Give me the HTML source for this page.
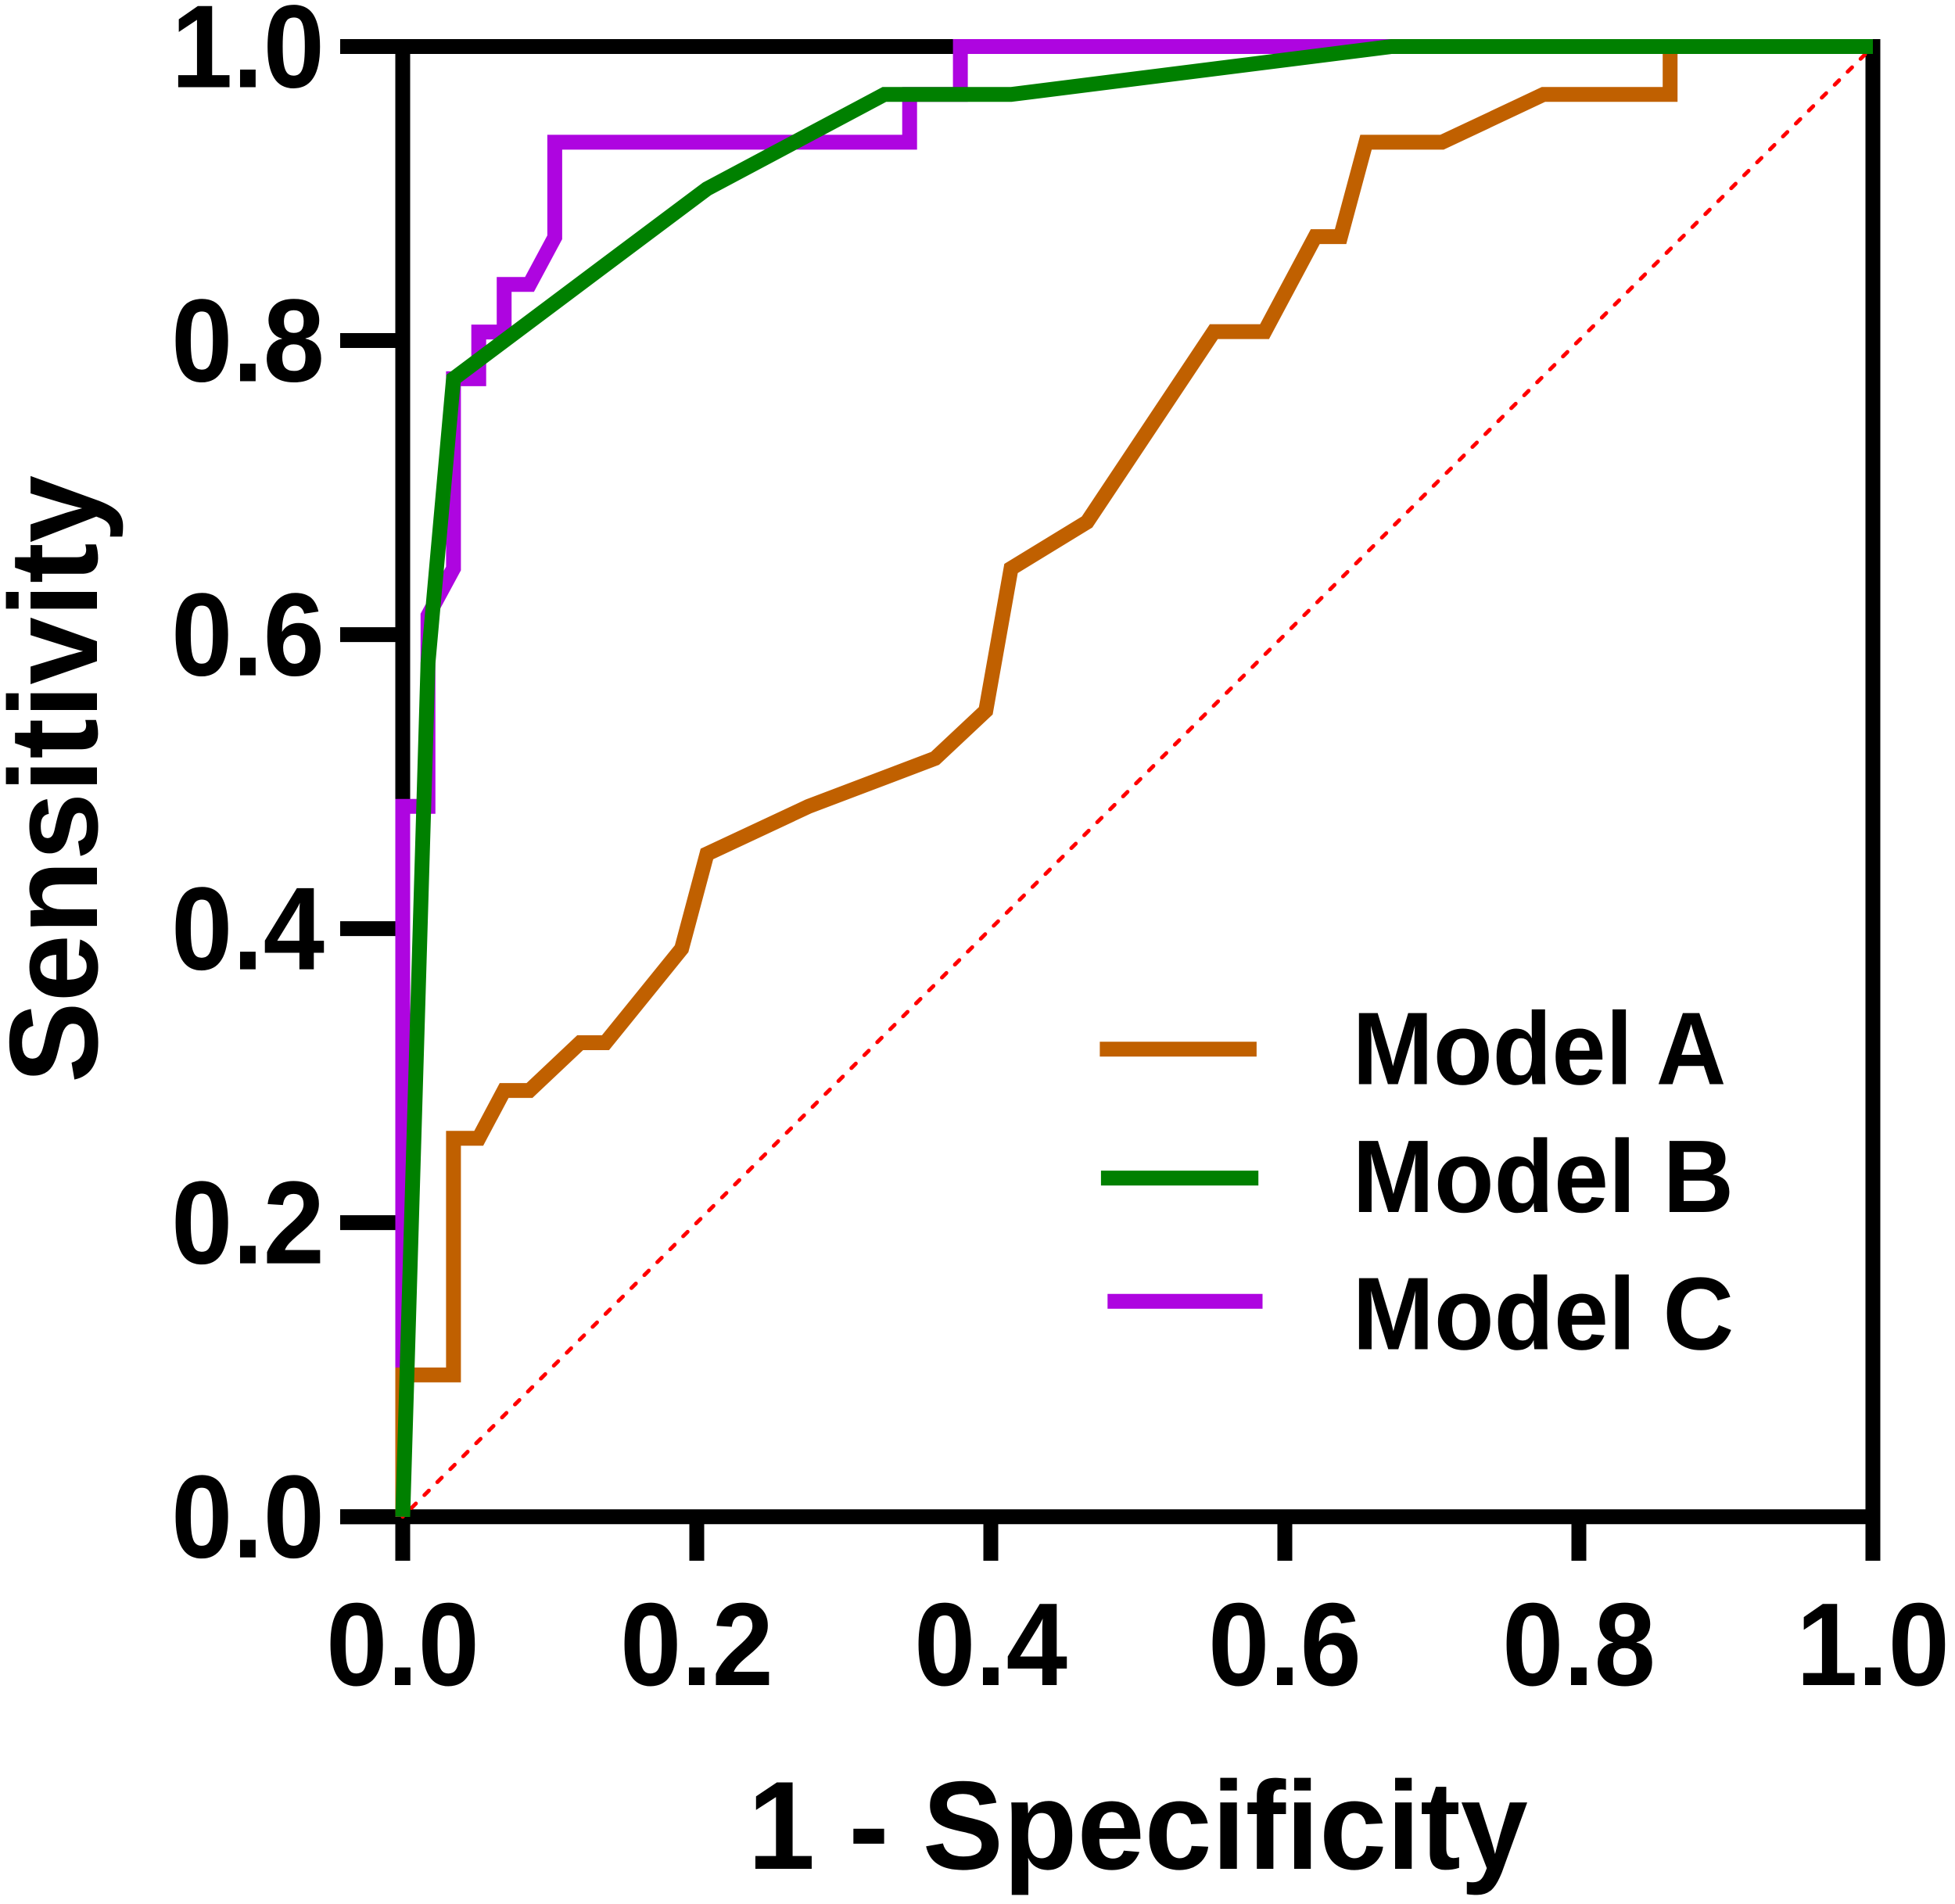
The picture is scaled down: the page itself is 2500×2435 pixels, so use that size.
<!DOCTYPE html>
<html lang="en">
<head>
<meta charset="utf-8">
<title>ROC curves</title>
<style>
  html, body { margin: 0; padding: 0; background: #ffffff; }
  svg { display: block; }
  text { font-family: "Liberation Sans", Arial, sans-serif; font-weight: 700; fill: #000000; }
</style>
</head>
<body>
<svg id="chart" xmlns="http://www.w3.org/2000/svg" width="2500" height="2435" viewBox="0 0 2500 2435">
  <rect x="0" y="0" width="2500" height="2435" fill="#ffffff"/>
  <g id="axes"></g>
  <g id="series"></g>
  <g id="ticklabels"></g>

  <text transform="translate(1455 2390) scale(0.992 1.03)" font-size="156" text-anchor="middle">1 - Specificity</text>
  <text transform="translate(124 996.5) rotate(-90) scale(0.996 1.03)" font-size="156" text-anchor="middle">Sensitivity</text>

  <g>
    <g>
      <line x1="1406.4" x2="1606.9" y1="1341.8" y2="1341.8" stroke="#c06000" stroke-width="19"/>
      <text transform="translate(1729.5 1386.5) scale(0.94 1)" font-size="132">Model A</text>
    </g>
    <g>
      <line x1="1407.9" x2="1609.2" y1="1506.6" y2="1506.6" stroke="#008000" stroke-width="19"/>
      <text transform="translate(1729.5 1550) scale(0.95 1)" font-size="132">Model B</text>
    </g>
    <g>
      <line x1="1416.3" x2="1614.5" y1="1664.3" y2="1664.3" stroke="#ae05e0" stroke-width="19"/>
      <text transform="translate(1729.5 1725.5) scale(0.95 1)" font-size="132">Model C</text>
    </g>
  </g>
</svg>

<script>
const xTicks = [0, 0.2, 0.4, 0.6, 0.8, 1];
const yTicks = [0, 0.2, 0.4, 0.6, 0.8, 1];
const xTickLabels = ["0.0", "0.2", "0.4", "0.6", "0.8", "1.0"];
const yTickLabels = ["0.0", "0.2", "0.4", "0.6", "0.8", "1.0"];

const modelAFpr = [0, 0, 0.0345, 0.0345, 0.0517, 0.069, 0.0862, 0.1207, 0.1379, 0.1897, 0.2069, 0.2759, 0.3621, 0.3966, 0.4138, 0.4655, 0.5517, 0.5862, 0.6207, 0.6379, 0.6552, 0.7069, 0.7759, 0.8621, 0.8621, 1];
const modelATpr = [0, 0.0964, 0.0964, 0.2574, 0.2574, 0.2899, 0.2899, 0.3224, 0.3224, 0.3863, 0.4508, 0.4831, 0.5158, 0.5482, 0.645, 0.6766, 0.8061, 0.8061, 0.8707, 0.8707, 0.9349, 0.9349, 0.9674, 0.9674, 1, 1];

const modelBFpr = [0, 0.0172, 0.0345, 0.2069, 0.3276, 0.4138, 0.6724, 1];
const modelBTpr = [0, 0.5806, 0.774, 0.9032, 0.9674, 0.9674, 1, 1];

const modelCFpr = [0, 0, 0.0172, 0.0172, 0.0345, 0.0345, 0.0517, 0.0517, 0.069, 0.069, 0.0862, 0.1034, 0.1034, 0.3448, 0.3448, 0.3793, 0.3793, 1];
const modelCTpr = [0, 0.4832, 0.4832, 0.6129, 0.645, 0.774, 0.774, 0.8058, 0.8058, 0.8382, 0.8382, 0.8702, 0.9349, 0.9349, 0.9674, 0.9674, 1, 1];

const referenceFpr = [0, 1];
const referenceTpr = [0, 1];

const NS = 'http://www.w3.org/2000/svg';
const plotLeft = 515, plotRight = 2395, plotTop = 59.5, plotBottom = 1939.7;
const axisWidth = 19;
const scaleX = v => plotLeft + v * (plotRight - plotLeft);
const scaleY = v => plotBottom - v * (plotBottom - plotTop);
const axesGroup = document.getElementById('axes');
const seriesGroup = document.getElementById('series');
const labelGroup = document.getElementById('ticklabels');

function makeLine(x1, y1, x2, y2) {
  const l = document.createElementNS(NS, 'line');
  l.setAttribute('x1', x1);
  l.setAttribute('y1', y1);
  l.setAttribute('x2', x2);
  l.setAttribute('y2', y2);
  l.setAttribute('stroke', '#000000');
  l.setAttribute('stroke-width', axisWidth);
  return l;
}

function makePath(xs, ys, color, width) {
  const p = document.createElementNS(NS, 'polyline');
  p.setAttribute('points', xs.map((v, i) => scaleX(v).toFixed(1) + ',' + scaleY(ys[i]).toFixed(1)).join(' '));
  p.setAttribute('fill', 'none');
  p.setAttribute('stroke', color);
  p.setAttribute('stroke-width', width);
  p.setAttribute('stroke-linejoin', 'miter');
  p.setAttribute('stroke-miterlimit', '10');
  return p;
}

function makeLabel(x, y, str, anchor) {
  const t = document.createElementNS(NS, 'text');
  t.setAttribute('transform', 'translate(' + x + ' ' + y + ') scale(1 1.07)');
  t.setAttribute('font-size', '141');
  t.setAttribute('text-anchor', anchor);
  t.textContent = str;
  return t;
}

const leftAxis = makeLine(scaleX(0), scaleY(1) - axisWidth / 2, scaleX(0), 1996);


axesGroup.appendChild(leftAxis);

const bottomAxis = makeLine(435, scaleY(0), scaleX(1), scaleY(0));


axesGroup.appendChild(bottomAxis);

const topFrame = makeLine(435, scaleY(1), scaleX(1), scaleY(1));


axesGroup.appendChild(topFrame);

const rightFrame = makeLine(scaleX(1), scaleY(1) - axisWidth / 2, scaleX(1), 1996);


axesGroup.appendChild(rightFrame);

xTicks.forEach((v, i) => {
  const tick = makeLine(scaleX(v), scaleY(0), scaleX(v), 1996);
  
  
  axesGroup.appendChild(tick);
  const label = makeLabel(scaleX(v), 2155, xTickLabels[i], 'middle');
  
  
  labelGroup.appendChild(label);
});

yTicks.forEach((v, i) => {
  const tick = makeLine(435, scaleY(v), scaleX(0), scaleY(v));
  
  
  axesGroup.appendChild(tick);
  const label = makeLabel(415, scaleY(v) + 52, yTickLabels[i], 'end');
  
  
  labelGroup.appendChild(label);
});

const referenceLine = makePath(referenceFpr, referenceTpr, '#ff0000', 5);
referenceLine.setAttribute('stroke-dasharray', '8 15.4');
referenceLine.setAttribute('stroke-dashoffset', '7.6');
referenceLine.setAttribute('stroke-linecap', 'round');


seriesGroup.appendChild(referenceLine);

const lineC = makePath(modelCFpr, modelCTpr, '#ae05e0', 19);


seriesGroup.appendChild(lineC);

const lineA = makePath(modelAFpr, modelATpr, '#c06000', 19);


seriesGroup.appendChild(lineA);

const lineB = makePath(modelBFpr, modelBTpr, '#008000', 19);


seriesGroup.appendChild(lineB);
</script>
</body>
</html>
